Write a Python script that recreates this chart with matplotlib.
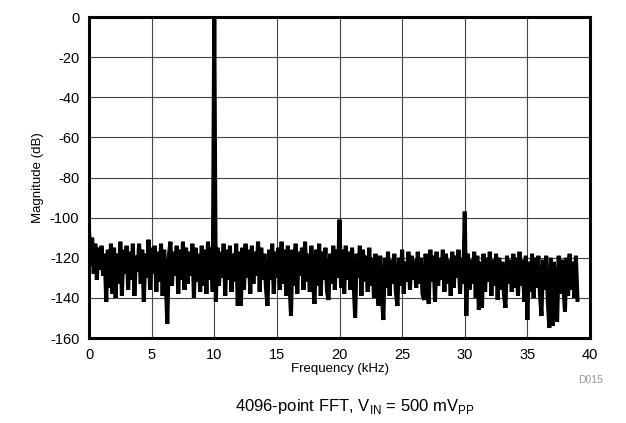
import numpy as np
import matplotlib.pyplot as plt

plt.rcParams['font.family'] = ['Liberation Sans', 'DejaVu Sans']
plt.rcParams['axes.unicode_minus'] = False

# FFT bin spacing (kHz) and magnitude per bin (dB)
bin_khz = 0.125
magnitude_db = [
    -106, -124, -110, -128, -113, -131, -115, -126,
    -114, -129, -118, -142, -116, -135, -113, -138,
    -115, -140, -118, -133, -112, -139, -116, -128,
    -114, -136, -117, -131, -113, -139, -119, -127,
    -113, -133, -116, -142, -118, -130, -111, -136,
    -115, -128, -114, -137, -117, -132, -113, -139,
    -116, -131, -153, -119, -112, -134, -117, -129,
    -114, -138, -116, -131, -112, -136, -115, -133,
    -117, -129, -113, -140, -115, -132, -118, -137,
    -114, -134, -116, -138, -112, -131, -115, -137,
    0, -142, -115, -134, -117, -130, -113, -139,
    -116, -131, -114, -137, -118, -132, -113, -144,
    -117, -144, -115, -136, -113, -130, -116, -138,
    -114, -133, -117, -129, -112, -137, -115, -131,
    -118, -135, -144, -116, -131, -113, -138, -117,
    -130, -115, -136, -112, -133, -116, -139, -114,
    -131, -149, -116, -134, -113, -138, -117, -129,
    -115, -136, -112, -132, -118, -137, -114, -130,
    -143, -116, -134, -113, -139, -117, -131, -115,
    -137, -141, -118, -133, -114, -136, -116, -130,
    -101, -135, -116, -138, -114, -131, -117, -136,
    -115, -133, -150, -118, -130, -114, -139, -116,
    -132, -119, -137, -115, -134, -120, -140, -118,
    -136, -144, -119, -138, -151, -120, -135, -117,
    -139, -121, -133, -118, -137, -144, -120, -134,
    -116, -138, -122, -132, -117, -136, -119, -131,
    -121, -135, -117, -133, -120, -138, -141, -118,
    -136, -143, -116, -132, -119, -142, -117, -134,
    -120, -131, -116, -137, -118, -133, -121, -139,
    -117, -135, -119, -130, -116, -138, -120, -133,
    -97, -149, -118, -136, -121, -133, -117, -140,
    -119, -146, -122, -145, -118, -137, -120, -132,
    -117, -139, -121, -134, -118, -141, -120, -136,
    -122, -138, -145, -119, -133, -121, -137, -118,
    -135, -120, -139, -117, -134, -121, -142, -119,
    -151, -122, -137, -118, -140, -120, -135, -119,
    -138, -149, -121, -136, -119, -141, -155, -120,
    -154, -122, -137, -152, -119, -138, -121, -134,
    -147, -120, -139, -118, -136, -122, -140, -119,
    -141,
]

x_ticks = [0, 5, 10, 15, 20, 25, 30, 35, 40]
y_ticks = [0, -20, -40, -60, -80, -100, -120, -140, -160]

fig = plt.figure(figsize=(6.26, 4.23), dpi=100)
ax = fig.add_axes([0.1422, 0.2009, 0.8003, 0.7589])

freq = np.arange(len(magnitude_db)) * bin_khz
ax.plot(freq, magnitude_db, color='black', linewidth=2.9, solid_joinstyle='miter')

# x-axis
ax.set_xlim(0, 40)
ax.set_xticks(x_ticks)
ax.set_xlabel("Frequency (kHz)", fontsize=9.5, labelpad=1)

# y-axis
ax.set_ylim(-160, 0)
ax.set_yticks(y_ticks)
ax.set_ylabel("Magnitude (dB)", fontsize=9.5, labelpad=4)

ax.tick_params(axis='both', length=0, labelsize=10.5, pad=7)
ax.grid(True, color='#444444', linewidth=0.8)
ax.set_axisbelow(True)
for spine in ax.spines.values():
    spine.set_linewidth(2.2)

fig.text(0.944, 0.095, "D015", fontsize=7.5, color='#999999', ha='center')
fig.text(0.567, 0.028, r"4096-point FFT, V$_{\mathregular{IN}}$ = 500 mV$_{\mathregular{PP}}$",
         fontsize=12, ha='center')

plt.savefig('out.png', dpi=100)
